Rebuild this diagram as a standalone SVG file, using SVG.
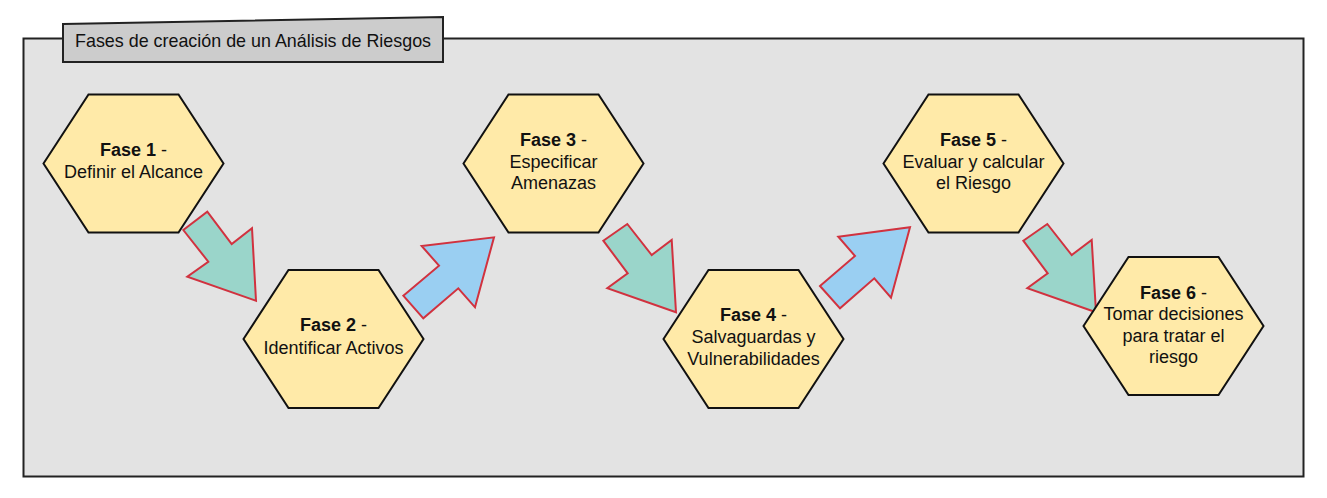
<svg xmlns="http://www.w3.org/2000/svg" width="1327" height="498" viewBox="0 0 1327 498">
<style>
.hex{fill:#ffeaa8;stroke:#111;stroke-width:2;stroke-linejoin:miter}
.t{font-family:"Liberation Sans",Arial,sans-serif;font-size:18px;fill:#111;text-anchor:middle}
.b{font-weight:bold}
.teal{fill:#9ad5ca;stroke:#d1323f;stroke-width:2}
.blue{fill:#9acff2;stroke:#d1323f;stroke-width:2}
</style>
<defs>
<polygon id="hx" points="-90,0 -45,-69 45,-69 90,0 45,69 -45,69"/>
</defs>
<g id="container">
<rect x="23.5" y="38.5" width="1280" height="438" fill="#e3e3e3" stroke="#222" stroke-width="2"/>
<polygon points="63,24 443,17 443,62 63,62" fill="#cccccc" stroke="#222" stroke-width="2"/>
<text x="75" y="47" font-family="Liberation Sans,Arial,sans-serif" font-size="17.9" fill="#111">Fases de creación de un Análisis de Riesgos</text>
</g>
<g id="connectors">
<polygon class="teal" points="183.3,230 207.3,211.7 231.7,244 252,228.3 256,300.7 187.3,276.7 208.3,261.7"/>
<polygon class="blue" points="403.3,295.7 439,265.7 421.7,246 494,237.3 475,307.3 458.3,288.3 423.3,318.3"/>
<polygon class="teal" points="603.3,240.7 627.3,224 651.7,255 671.7,240 676,312.3 607.3,288.3 627.7,273.3"/>
<polygon class="blue" points="820,286 855,256 838.3,236.7 910,227.3 891,297.7 874.3,278.3 840,308.3"/>
<polygon class="teal" points="1023.3,240.7 1047.3,224 1071.7,255 1091.7,240 1096,312.3 1027.3,288.3 1047.7,273.3"/>
</g>
<g id="fase1">
<use href="#hx" class="hex" x="133.5" y="163.5"/>
<text class="t" x="133.5" y="156"><tspan class="b">Fase 1</tspan> -</text>
<text class="t" x="133.5" y="177.5">Definir el Alcance</text>
</g>
<g id="fase2">
<use href="#hx" class="hex" x="333.5" y="339"/>
<text class="t" x="333.5" y="331"><tspan class="b">Fase 2</tspan> -</text>
<text class="t" x="333.5" y="353.5">Identificar Activos</text>
</g>
<g id="fase3">
<use href="#hx" class="hex" x="553.5" y="163.5"/>
<text class="t" x="553.5" y="145.5"><tspan class="b">Fase 3</tspan> -</text>
<text class="t" x="553.5" y="167.5">Especificar</text>
<text class="t" x="553.5" y="189">Amenazas</text>
</g>
<g id="fase4">
<use href="#hx" class="hex" x="753.5" y="339"/>
<text class="t" x="753.5" y="321"><tspan class="b">Fase 4</tspan> -</text>
<text class="t" x="753.5" y="343">Salvaguardas y</text>
<text class="t" x="753.5" y="364.5">Vulnerabilidades</text>
</g>
<g id="fase5">
<use href="#hx" class="hex" x="973.5" y="163.5"/>
<text class="t" x="973.5" y="145.5"><tspan class="b">Fase 5</tspan> -</text>
<text class="t" x="973.5" y="167.5">Evaluar y calcular</text>
<text class="t" x="973.5" y="189">el Riesgo</text>
</g>
<g id="fase6">
<use href="#hx" class="hex" x="1173.5" y="326"/>
<text class="t" x="1173.5" y="298.5"><tspan class="b">Fase 6</tspan> -</text>
<text class="t" x="1173.5" y="320">Tomar decisiones</text>
<text class="t" x="1173.5" y="341.5">para tratar el</text>
<text class="t" x="1173.5" y="363">riesgo</text>
</g>
</svg>
